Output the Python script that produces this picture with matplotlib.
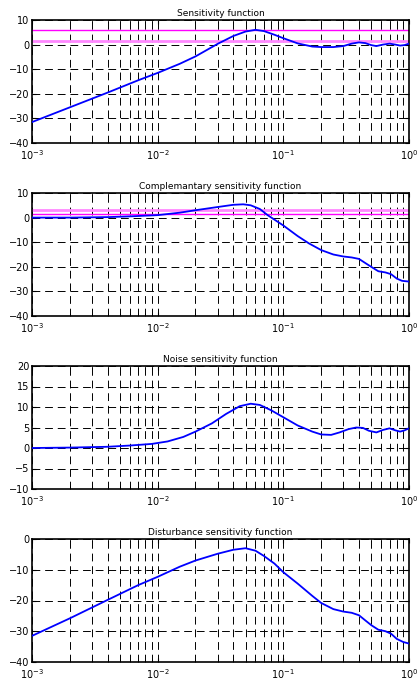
import numpy as np
import matplotlib.pyplot as plt
from matplotlib.ticker import LogLocator, NullFormatter, MultipleLocator

# frequency points (normalized) and magnitudes in dB
freq_S = [0.001, 0.002, 0.004, 0.007, 0.01, 0.015, 0.02, 0.025, 0.03, 0.04,
          0.05, 0.06, 0.07, 0.085, 0.1, 0.13, 0.17, 0.2, 0.25, 0.3, 0.35, 0.4,
          0.45, 0.5, 0.55, 0.62, 0.7, 0.78, 0.85, 0.92, 1.0]
mag_S = [-31.5, -25.5, -19.5, -14.5, -11.5, -7.8, -4.8, -2.0, 0.3, 3.5,
         5.3, 6.0, 5.5, 4.0, 2.6, 0.5, -0.8, -1.0, -1.0, -0.6, 0.4, 0.9,
         0.6, -0.2, -0.6, 0.0, 0.4, 0.0, -0.4, -0.2, 0.4]

freq_T = [0.001, 0.002, 0.004, 0.006, 0.01, 0.015, 0.02, 0.03, 0.04, 0.048,
          0.055, 0.065, 0.075, 0.1, 0.13, 0.16, 0.2, 0.25, 0.3, 0.35, 0.4,
          0.45, 0.5, 0.57, 0.65, 0.72, 0.8, 0.88, 1.0]
mag_T = [0.0, 0.0, 0.2, 0.5, 1.0, 2.0, 3.0, 4.3, 5.2, 5.4, 5.0, 3.5, 1.0,
         -3.2, -7.5, -10.5, -13.2, -15.0, -15.8, -16.2, -16.8, -18.5, -20.0,
         -21.8, -22.3, -23.0, -24.8, -25.7, -26.0]

freq_N = [0.001, 0.002, 0.004, 0.006, 0.009, 0.012, 0.016, 0.02, 0.027, 0.035,
          0.045, 0.055, 0.065, 0.08, 0.1, 0.13, 0.17, 0.2, 0.24, 0.28, 0.33,
          0.38, 0.43, 0.48, 0.55, 0.62, 0.7, 0.78, 0.85, 0.92, 1.0]
mag_N = [0.0, 0.1, 0.3, 0.6, 1.0, 1.6, 2.7, 4.0, 6.0, 8.3, 10.2, 10.8, 10.5,
         9.2, 7.5, 5.5, 4.0, 3.3, 3.2, 3.8, 4.6, 5.0, 4.9, 4.2, 3.8, 4.4,
         4.8, 4.3, 4.0, 4.3, 4.8]

freq_D = [0.001, 0.002, 0.004, 0.007, 0.01, 0.015, 0.02, 0.03, 0.04, 0.05,
          0.06, 0.07, 0.085, 0.1, 0.13, 0.17, 0.2, 0.25, 0.3, 0.35, 0.4, 0.45,
          0.5, 0.57, 0.65, 0.72, 0.8, 0.9, 1.0]
mag_D = [-31.5, -25.8, -19.8, -15.0, -12.3, -9.0, -7.0, -4.8, -3.5, -3.0,
         -3.8, -5.5, -8.0, -10.8, -14.5, -18.5, -20.8, -22.8, -23.6, -24.0,
         -24.8, -26.5, -28.0, -29.5, -30.0, -30.8, -32.5, -33.5, -34.0]

titles = ["Sensitivity function", "Complemantary sensitivity function",
          "Noise sensitivity function", "Disturbance sensitivity function"]
freqs = [freq_S, freq_T, freq_N, freq_D]
mags = [mag_S, mag_T, mag_N, mag_D]
ylims = [(-40, 10), (-40, 10), (-10, 20), (-40, 0)]
ysteps = [10, 10, 5, 10]

# bound lines: (level, colour, width)
bounds = [[(6.0, "#ff00ff", 1.0), (1.3, "#ff88ff", 2.0)],
          [(3.0, "#ff88ff", 2.0), (1.5, "#ff00ff", 1.0)],
          [], []]

W, H = 420, 680
fig = plt.figure(figsize=(W / 100, H / 100), dpi=100)
plt.rcParams['font.family'] = ['DejaVu Sans']

tops = [20, 193, 366, 539]
left, right, hgt = 32, 409, 123
for i in range(4):
    ax = fig.add_axes([left / W, 1 - (tops[i] + hgt) / H, (right - left) / W, hgt / H])
    ax.set_xscale('log')
    for lev, col, lw in bounds[i]:
        ax.axhline(lev, color=col, lw=lw, zorder=2)
    ax.plot(freqs[i], mags[i], color='blue', lw=1.3, zorder=3)
    ax.set_xlim(1e-3, 1)
    ax.set_ylim(*ylims[i])
    ax.yaxis.set_major_locator(MultipleLocator(ysteps[i]))
    ax.xaxis.set_major_locator(LogLocator(base=10, numticks=10))
    ax.xaxis.set_minor_locator(LogLocator(base=10, subs=np.arange(2, 10), numticks=20))
    ax.xaxis.set_minor_formatter(NullFormatter())
    ax.grid(True, which='both', axis='x', color='black', ls=(0, (8, 5)), lw=0.7)
    ax.grid(True, which='major', axis='y', color='black', ls=(0, (8, 5)), lw=0.7)
    ax.tick_params(which='both', direction='in', top=True, right=True, labelsize=7)
    ax.tick_params(axis='y', pad=2)
    ax.tick_params(axis='x', pad=3.5)
    ax.tick_params(which='major', length=3)
    ax.tick_params(which='minor', length=2)
    for sp in ax.spines.values():
        sp.set_linewidth(1.2)
    ax.set_title(titles[i], fontsize=6.5, pad=3)

fig.savefig("out.png", dpi=100)
